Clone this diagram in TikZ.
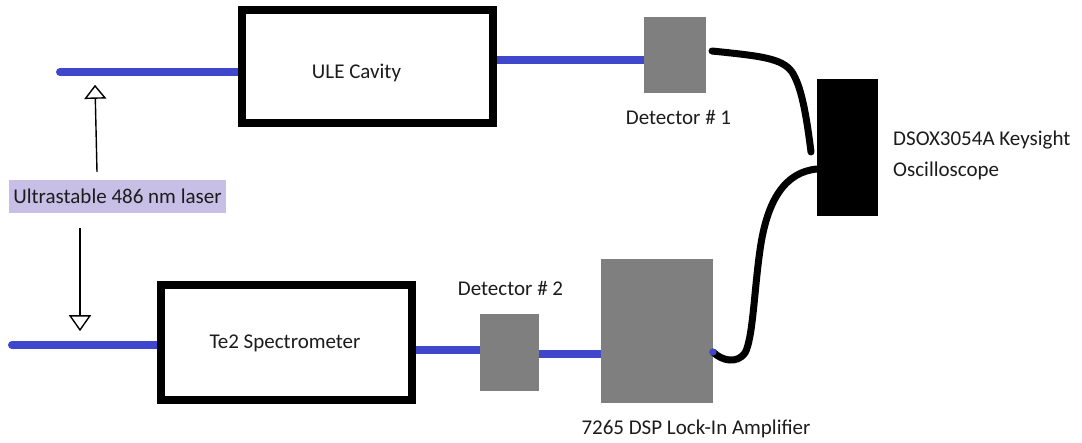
\documentclass[tikz,border=0pt]{standalone}
\usepackage{fontspec}
\setmainfont{Carlito}
\usetikzlibrary{arrows.meta,calc}
\pgfdeclarelayer{bg}
\pgfsetlayers{bg,main}
\definecolor{fiber}{RGB}{63,72,204}
\definecolor{dgray}{RGB}{127,127,127}
\definecolor{lav}{RGB}{200,191,231}
\definecolor{ink}{RGB}{28,28,28}
\begin{document}
\begin{tikzpicture}[x=1pt,y=-1pt,
  lbl/.style={font=\fontsize{21}{31}\selectfont, text=ink, inner sep=0pt},
  frame/.style={draw=black, line width=8pt, fill=white, inner sep=0pt},
  grayblock/.style={fill=dgray, draw=none, inner sep=0pt, outer sep=0pt},
  fiberline/.style={draw=fiber, line width=8pt, line cap=round},
  cable/.style={draw=black, line width=7pt, line cap=round, line join=round},
  pointer/.style={draw=black, line width=1.4pt}
]
\useasboundingbox (0,0) rectangle (1082,442);

% devices
\node[frame, minimum width=251pt, minimum height=113pt] (ule) at (367.5,66.5) {};
\node[frame, minimum width=251pt, minimum height=115pt] (te2) at (286.5,342.5) {};
\node[grayblock, minimum width=62pt, minimum height=76pt] (det1) at (675,55) {};
\node[grayblock, minimum width=59pt, minimum height=77pt] (det2) at (509.5,352.5) {};
\node[grayblock, minimum width=112pt, minimum height=144pt] (lockin) at (657,331) {};
\node[fill=black, draw=none, inner sep=0pt, outer sep=0pt, minimum width=61pt, minimum height=137pt] (scope) at (847.5,147.5) {};

% labels
\node[lbl, anchor=base] (ulelbl) at (356.5,78) {ULE Cavity};
\node[lbl, anchor=base] (te2lbl) at (285,348) {Te2 Spectrometer};
\node[lbl, anchor=base] (det1lbl) at (678.5,124) {Detector \# 1};
\node[lbl, anchor=base] (det2lbl) at (510.5,295) {Detector \# 2};
\node[lbl, anchor=base] (lockinlbl) at (696,434) {7265 DSP Lock-In Amplifier};
\node[lbl, anchor=west, align=left] (scopelbl) at ([xshift=15pt,yshift=-8pt]scope.east) {DSOX3054A Keysight\\Oscilloscope};
\node[lbl, fill=lav, inner xsep=4.5pt, inner ysep=6pt, text height=17pt, text depth=4pt] (laser) at (117.5,196.5) {Ultrastable 486 nm laser};

% free ends of the fibres
\coordinate (in1) at (60,72);
\coordinate (in2) at (12,345);

\begin{pgfonlayer}{bg}
  \draw[fiberline] (in1) -- (in1 -| ule.west);
  \draw[fiberline] ([yshift=7pt]ule.east) -- ([yshift=-4.5pt]det1.west);
  \draw[fiberline] (in2) -- (in2 -| te2.west);
  \draw[fiberline] ([yshift=-7.5pt]te2.east) -- ([yshift=2.5pt]det2.west);
  \draw[fiberline] ([yshift=-1.5pt]det2.east) -- ([yshift=-23pt]lockin.west);
\end{pgfonlayer}

% cables
\draw[cable] ([xshift=6pt,yshift=4pt]det1.east) .. controls (760,56) and (782,58) .. (792,72)
   .. controls (801,86) and (806,112) .. ([xshift=-6pt,yshift=-4.5pt]scope.west);
\draw[cable] ([yshift=-21.5pt]scope.west) .. controls (785,172) and (767,200) .. (760,250)
   .. controls (754,292) and (753,338) .. (745,353)
   .. controls (737,364) and (722,361) .. ([yshift=-21pt]lockin.east);
\fill[fiber] ([yshift=-21pt]lockin.east) circle (3.5pt);

% laser pointers
\draw[pointer, -{Triangle[open, length=14pt, width=22pt, line width=1.4pt]}]
  ([xshift=-20.5pt, yshift=8pt]laser.north) -- ([xshift=-22.5pt, yshift=95pt]laser.north);
\draw[pointer, -{Triangle[open, length=16pt, width=22pt, line width=1.4pt]}]
  ([xshift=-37.5pt, yshift=-15pt]laser.south) -- ([xshift=-37.5pt, yshift=-118pt]laser.south);
\end{tikzpicture}
\end{document}
